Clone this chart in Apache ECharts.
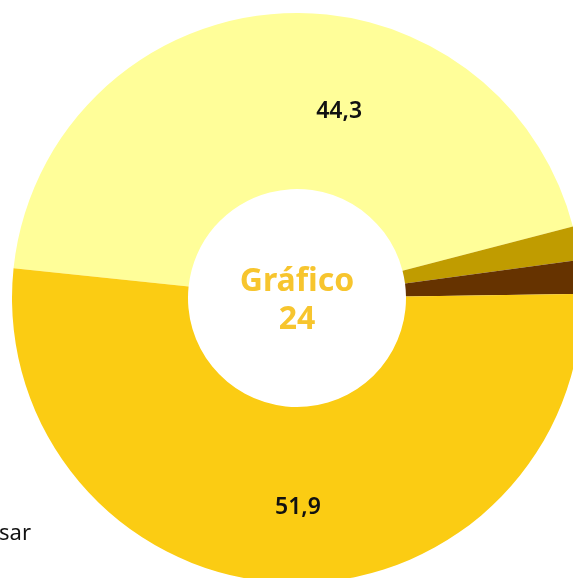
<!DOCTYPE html>
<html>
<head>
<meta charset="utf-8">
<script src="https://cdn.jsdelivr.net/npm/echarts@6/dist/echarts.min.js"></script>
<style>
  html, body { margin: 0; padding: 0; background: #fff; }
  #chart { width: 573px; height: 578px; }
</style>
</head>
<body>
<div id="chart"></div>
<script>
// valores del gráfico 24
var categories = ["A", "B", "C", "D"];
var values = [44.3, 1.9, 1.9, 51.9];
var colors = ["#FFFE99", "#C09C00", "#663300", "#FBCC13"];
var showLabel = [true, false, false, true];

var chart = echarts.init(document.getElementById("chart"));

var data = values.map(function (v, i) {
  var item = {
    name: categories[i],
    value: v,
    itemStyle: { color: colors[i] },
    label: { show: showLabel[i] }
  };
  // etiquetas colocadas a mano como en el original
  if (i === 0) item.label.offset = [57, 13];
  if (i === 3) item.label.offset = [10, 10];
  return item;
});

chart.setOption({
  animation: false,
  series: [{
    type: "pie",
    center: [297, 298],
    radius: [109, 285],
    startAngle: 174,
    clockwise: true,
    avoidLabelOverlap: false,
    labelLine: { show: false },
    label: {
      position: "inside",
      color: "#111",
      fontFamily: "Noto Sans",
      fontWeight: 600,
      fontSize: 23,
      formatter: function (p) {
        return String(p.value).replace(".", ",");
      }
    },
    itemStyle: { borderWidth: 0 },
    data: data
  }],
  graphic: [
    {
      type: "text",
      left: 297 - 60,
      top: 263,
      style: {
        text: "Gráfico\n24",
        width: 120,
        align: "center",
        x: 60,
        fill: "#F7C52E",
        font: "bold 32px 'Noto Sans'",
        lineHeight: 38,
        textAlign: "center"
      }
    },
    {
      type: "text",
      left: -1,
      top: 523,
      style: {
        text: "sar",
        fill: "#111",
        font: "22px 'Noto Sans'"
      }
    }
  ]
});
</script>
</body>
</html>
